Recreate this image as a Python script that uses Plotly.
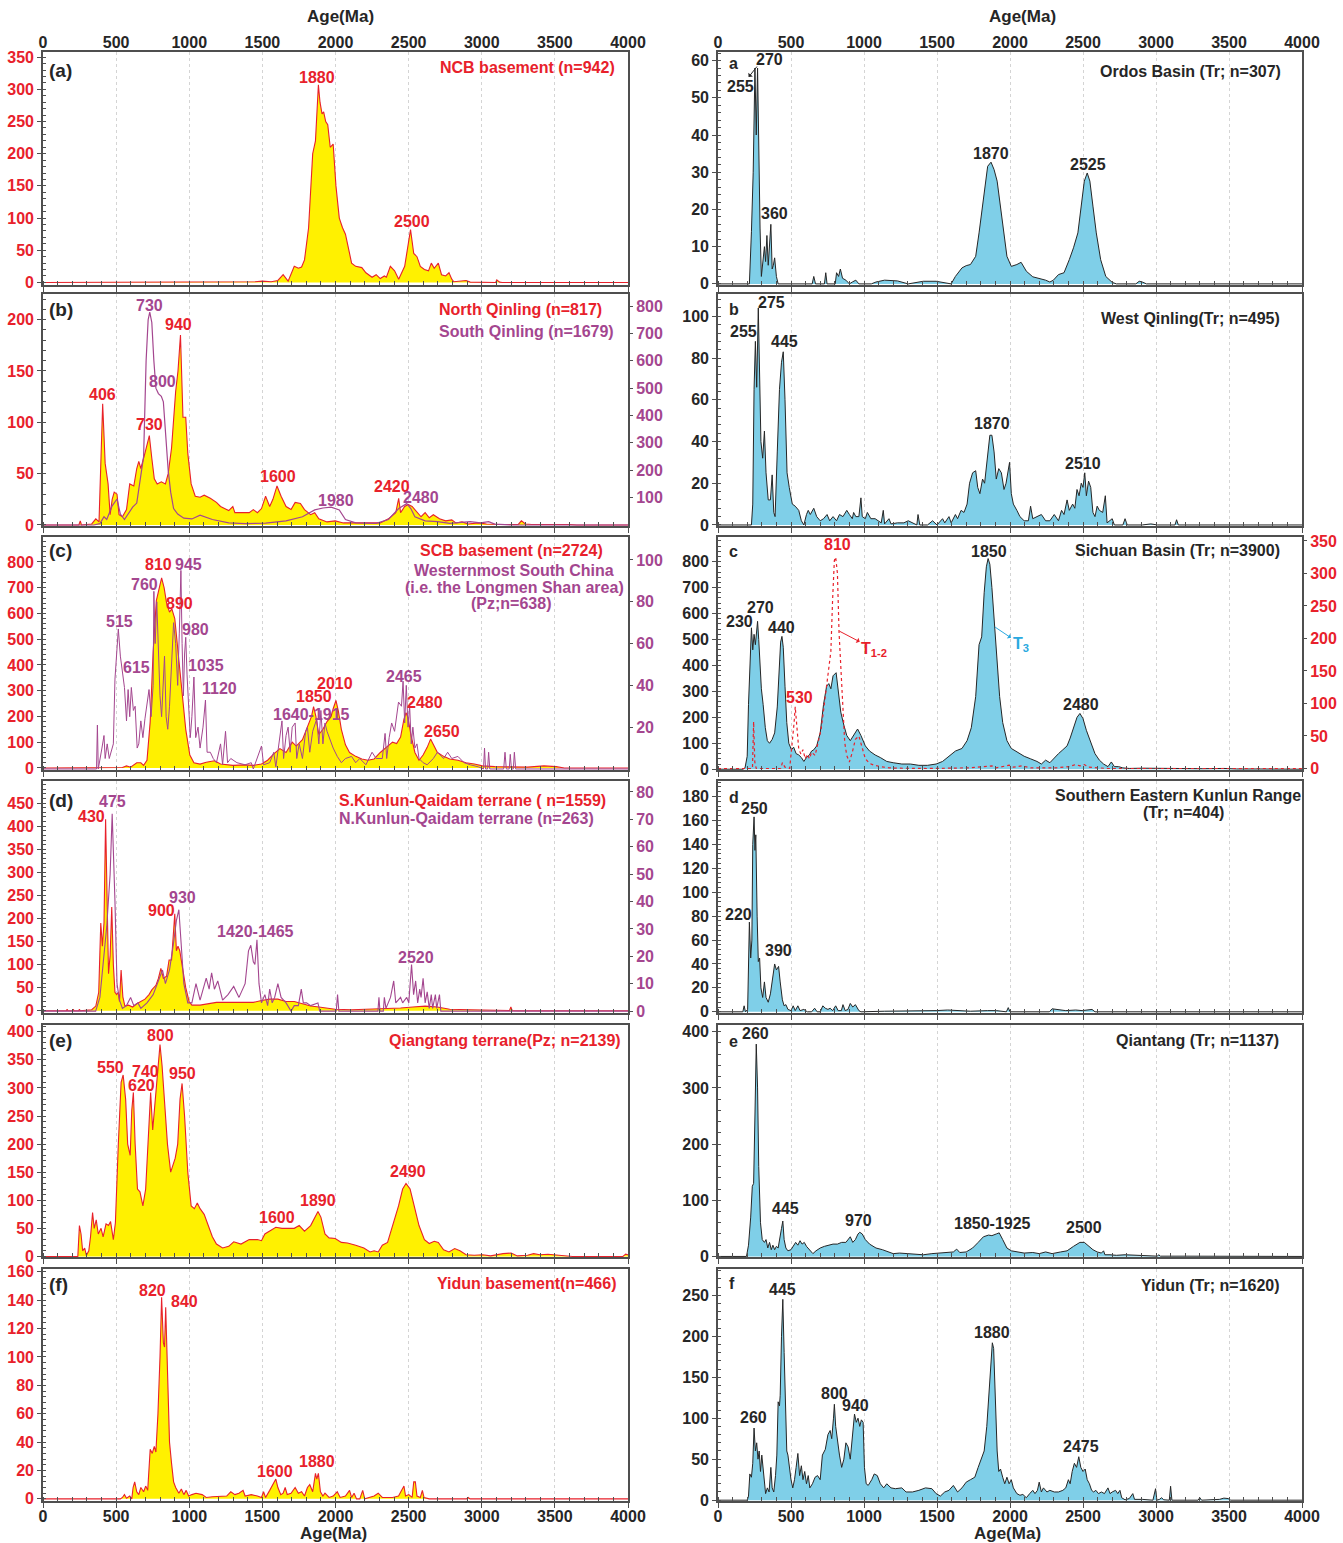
import plotly.graph_objects as go

# ---------------------------------------------------------------- data
# each series: list of (age in Ma, value)
ncb_basement = [(0,0),(1400,0),(1450,1),(1500,2),(1560,1),(1606,3),(1642,12),(1676,2),(1718,25),(1746,22),(1768,24),(1788,35),(1816,85),(1844,200),(1863,220),(1883,307),(1894,280),(1908,262),(1919,265),(1933,250),(1947,245),(1964,210),(1984,215),(2003,150),(2026,100),(2048,85),(2068,75),(2087,55),(2110,30),(2138,25),(2180,23),(2208,15),(2250,8),(2278,12),(2306,6),(2334,10),(2348,8),(2375,25),(2404,18),(2432,5),(2473,25),(2513,82),(2535,45),(2557,40),(2580,25),(2608,20),(2636,18),(2655,30),(2675,22),(2703,30),(2725,12),(2753,10),(2776,15),(2795,5),(2809,1),(2893,3),(2921,0.5),(3095,0),(3103,4),(3122,0.5),(3140,0),(4000,0)]

north_qinling = [(0,0),(245,0),(255,4),(263,0),(333,1),(361,6),(383,3),(408,118),(425,60),(445,40),(459,10),(473,25),(487,32),(506,30),(520,10),(543,8),(571,15),(593,40),(621,38),(641,55),(655,62),(669,55),(697,70),(727,87),(744,65),(761,45),(781,40),(809,42),(837,40),(856,50),(879,75),(907,130),(923,150),(940,185),(957,105),(976,105),(990,70),(1013,40),(1041,28),(1074,27),(1102,29),(1144,26),(1186,22),(1214,18),(1270,14),(1298,18),(1312,12),(1354,12),(1410,12),(1438,15),(1466,12),(1494,16),(1522,28),(1550,18),(1572,25),(1600,38),(1628,28),(1662,18),(1696,15),(1724,22),(1760,21),(1788,15),(1830,10),(1858,12),(1886,6),(1942,3),(1998,4),(2054,2),(2166,2),(2306,2),(2362,6),(2412,12),(2432,26),(2445,12),(2473,18),(2496,20),(2524,18),(2557,12),(2585,8),(2613,12),(2641,7),(2669,10),(2711,6),(2753,4),(2795,5),(2823,2),(2865,3),(2907,1),(2977,2),(3033,1),(3117,0.5),(3250,0.5),(3271,4),(3299,1),(3341,0.5),(3600,0.5),(3650,0),(4000,0)]

south_qinling = [(0,0),(347,0),(389,5),(417,30),(436,20),(453,40),(473,70),(506,95),(529,40),(557,20),(585,45),(613,65),(641,80),(663,160),(688,250),(705,600),(719,750),(730,778),(744,740),(758,600),(772,500),(789,480),(809,470),(823,450),(837,350),(856,200),(873,120),(893,60),(921,40),(963,25),(1018,22),(1074,36),(1158,20),(1270,8),(1382,5),(1522,7),(1662,15),(1774,30),(1858,55),(1914,62),(1970,65),(2026,55),(2068,20),(2138,8),(2278,6),(2362,20),(2432,60),(2487,78),(2515,60),(2543,30),(2613,15),(2697,12),(2781,6),(2921,12),(2991,8),(3047,12),(3089,3),(3201,0),(4000,0)]

scb_basement = [(0,0),(300,0),(543,2),(571,8),(599,3),(641,20),(669,20),(688,10),(711,30),(733,180),(753,450),(775,650),(795,700),(811,738),(828,700),(845,640),(865,605),(881,618),(901,580),(915,500),(935,400),(954,280),(976,150),(1004,50),(1032,20),(1074,15),(1116,22),(1172,28),(1214,15),(1298,10),(1382,12),(1438,10),(1494,15),(1536,30),(1578,55),(1620,75),(1662,60),(1704,100),(1732,85),(1774,110),(1816,170),(1836,200),(1850,238),(1866,200),(1886,130),(1914,150),(1942,180),(1970,200),(1984,230),(2003,262),(2020,220),(2040,150),(2068,90),(2096,60),(2138,45),(2180,35),(2222,30),(2264,35),(2306,60),(2348,80),(2390,100),(2418,95),(2445,120),(2468,190),(2482,215),(2496,195),(2515,130),(2543,60),(2571,30),(2599,50),(2627,80),(2650,112),(2669,90),(2697,60),(2739,45),(2781,35),(2837,30),(2893,20),(2949,15),(3005,8),(3089,5),(3173,5),(3313,3),(3425,8),(3509,5),(3565,0),(4000,0)]

westernmost_sc = [(0,0),(366,0),(372,21),(378,0),(403,10),(417,16),(425,5),(439,12),(453,5),(464,8),(481,12),(492,43),(515,67),(529,54),(543,45),(557,39),(571,23),(582,38),(593,25),(604,39),(618,28),(630,30),(644,10),(655,12),(669,23),(683,15),(697,24),(711,30),(725,38),(739,25),(753,40),(758,85),(767,60),(778,80),(789,60),(800,35),(811,25),(823,45),(831,54),(842,25),(853,19),(865,30),(879,50),(893,70),(907,60),(921,40),(932,65),(943,95),(951,60),(960,35),(968,55),(976,63),(985,45),(996,30),(1007,15),(1018,25),(1032,44),(1044,15),(1060,20),(1074,10),(1094,20),(1111,33),(1122,8),(1144,8),(1164,5),(1186,3),(1214,12),(1228,2),(1248,18),(1262,3),(1284,5),(1326,3),(1382,2),(1424,3),(1438,0),(1494,11),(1508,2),(1550,3),(1578,8),(1592,1),(1620,15),(1634,23),(1645,5),(1662,16),(1676,20),(1690,8),(1704,20),(1724,22),(1735,5),(1752,12),(1774,5),(1796,18),(1808,20),(1824,8),(1844,18),(1872,24),(1886,12),(1900,28),(1914,12),(1928,22),(1942,18),(1964,14),(1984,10),(2012,6),(2040,3),(2068,5),(2110,6),(2138,3),(2166,5),(2208,2),(2250,8),(2278,5),(2320,5),(2339,17),(2350,5),(2367,15),(2384,22),(2404,18),(2418,25),(2431,32),(2451,30),(2462,42),(2473,22),(2484,40),(2496,20),(2507,30),(2518,12),(2529,20),(2543,10),(2557,12),(2571,5),(2599,3),(2627,2),(2669,5),(2697,8),(2739,5),(2767,8),(2795,5),(2837,6),(2879,3),(2921,2),(2977,1),(3012,0),(3019,10),(3026,0),(3040,0),(3047,8),(3055,0),(3150,0),(3159,8),(3168,0),(3188,0),(3195,7),(3203,0),(3216,0),(3223,8),(3232,0),(4000,0)]

s_kunlun_qaidam = [(0,0),(160,0),(165,3),(170,0),(202,0),(207,3),(212,0),(244,0),(249,3),(254,0),(333,2),(361,10),(381,40),(395,190),(406,140),(417,190),(428,415),(439,200),(448,80),(459,120),(470,225),(481,100),(492,40),(504,35),(515,40),(523,20),(534,88),(546,30),(560,10),(585,12),(613,8),(641,15),(669,20),(697,25),(725,35),(744,45),(772,55),(789,70),(806,92),(823,70),(845,75),(862,110),(879,110),(890,170),(901,210),(912,130),(923,140),(935,130),(954,90),(976,50),(999,20),(1018,12),(1074,12),(1130,15),(1186,18),(1270,18),(1354,18),(1438,18),(1494,22),(1550,25),(1606,25),(1662,20),(1718,20),(1774,15),(1830,10),(1886,8),(1942,5),(1998,3),(2110,2),(2222,3),(2334,5),(2445,6),(2529,8),(2613,10),(2697,8),(2781,3),(2921,2),(3061,0.5),(3190,0.5),(3199,8),(3208,0.5),(3250,0),(4000,0)]

n_kunlun_qaidam = [(0,0),(360,0),(389,5),(417,22),(436,31),(459,50),(473,72),(492,40),(506,10),(523,4),(543,1),(571,2),(599,5),(621,2),(649,3),(669,1),(711,3),(753,6),(795,12),(817,15),(837,10),(865,15),(893,25),(912,33),(929,37),(943,25),(963,10),(990,3),(1018,3),(1046,10),(1074,4),(1116,12),(1136,8),(1153,14),(1172,8),(1195,11),(1228,4),(1265,6),(1304,9),(1340,5),(1382,10),(1405,22),(1421,24),(1438,18),(1449,17),(1463,26),(1477,10),(1494,3),(1517,6),(1536,2),(1550,8),(1567,3),(1584,5),(1606,10),(1628,5),(1662,3),(1696,0),(1718,2),(1746,2),(1766,8),(1780,3),(1802,3),(1830,2),(1880,3),(1892,0),(2005,0),(2014,6),(2023,0),(2290,0),(2297,5),(2304,0),(2327,0),(2334,5),(2345,1),(2376,5),(2398,11),(2412,3),(2445,5),(2459,3),(2487,5),(2501,3),(2520,17),(2534,6),(2548,11),(2562,3),(2576,8),(2585,5),(2599,12),(2613,3),(2627,7),(2641,1),(2655,6),(2664,1),(2683,6),(2692,1),(2711,6),(2720,0),(4000,0)]

qiangtang_pz = [(0,0),(238,0),(249,55),(260,40),(271,10),(285,15),(297,2),(313,10),(325,35),(339,78),(350,50),(364,65),(378,40),(397,50),(411,35),(431,58),(448,55),(462,62),(481,30),(495,60),(515,200),(534,310),(548,323),(565,280),(579,200),(596,180),(607,260),(618,292),(630,200),(646,120),(663,115),(683,90),(702,120),(719,200),(736,292),(750,225),(767,280),(786,330),(800,377),(814,340),(831,280),(851,200),(873,150),(890,165),(904,175),(921,200),(937,280),(951,308),(968,250),(990,150),(1013,90),(1035,85),(1055,95),(1074,85),(1102,75),(1130,55),(1158,35),(1186,22),(1228,15),(1270,18),(1304,26),(1354,22),(1410,30),(1466,30),(1494,28),(1517,40),(1550,45),(1592,52),(1634,50),(1690,50),(1718,50),(1752,55),(1788,45),(1830,55),(1858,70),(1880,80),(1900,70),(1928,40),(1956,33),(1998,32),(2040,25),(2082,24),(2138,20),(2194,15),(2236,8),(2264,10),(2292,8),(2320,20),(2356,25),(2390,55),(2431,90),(2459,120),(2482,130),(2510,120),(2538,90),(2571,55),(2608,30),(2641,23),(2675,27),(2703,25),(2739,12),(2776,8),(2815,14),(2851,10),(2893,3),(2949,2),(3005,3),(3061,1),(3145,5),(3201,6),(3243,1),(3313,2),(3355,5),(3397,3),(3453,4),(3509,3),(3593,1),(3621,0),(3965,0),(3984,4),(4000,3)]

yidun_basement = [(0,0),(529,0),(543,1),(557,3),(571,0.5),(593,2),(607,0),(616,8),(627,12),(641,5),(655,3),(669,8),(688,5),(702,9),(716,6),(733,35),(747,32),(761,37),(772,33),(786,60),(800,100),(811,142),(823,110),(831,107),(839,135),(851,95),(865,40),(879,25),(893,12),(907,8),(929,4),(946,7),(963,3),(979,6),(996,2),(1018,3),(1046,4),(1088,3),(1116,1),(1158,1.5),(1214,2),(1256,2),(1284,5),(1312,3),(1340,4),(1368,6),(1382,2),(1424,3),(1466,2),(1494,1),(1508,5),(1522,1),(1550,6),(1572,10),(1592,14),(1606,8),(1626,3),(1642,4),(1656,8),(1670,3),(1696,4),(1724,8),(1746,4),(1768,5),(1788,2),(1808,8),(1824,10),(1844,5),(1863,18),(1872,14),(1883,18),(1897,5),(1914,2),(1928,4),(1956,1),(1984,2),(2012,5),(2032,1),(2068,2),(2096,6),(2110,1),(2127,4),(2144,0),(2166,0),(2186,6),(2200,0),(2236,1),(2264,2),(2292,4),(2320,1),(2390,1),(2431,2),(2468,9),(2479,2),(2501,3),(2524,1),(2535,12),(2546,12),(2557,2),(2580,1),(2594,6),(2605,1),(2641,0),(2895,0),(2907,1),(2920,0),(4000,0)]

ordos_tr = [(0,0),(215,0),(229,14),(241,30),(253,58),(262,40),(271,58),(279,35),(288,15),(297,2),(309,8),(318,10),(326,6),(335,13),(344,5),(353,12),(362,16),(371,4),(379,5),(388,7),(400,2),(412,0),(645,0),(656,2),(668,0),(729,0),(738,3),(747,0),(803,0),(812,3),(826,2),(838,4),(853,1.5),(876,1),(900,0),(920,0.5),(944,1),(965,0),(1050,0),(1082,0.5),(1141,1),(1229,0.8),(1303,0),(1406,0.7),(1494,0.7),(1597,0),(1626,2),(1671,4.3),(1700,4.9),(1729,5.2),(1765,7.4),(1788,13.7),(1818,22.6),(1847,31.6),(1870,32.7),(1891,30.7),(1912,27.6),(1935,20.9),(1959,13.7),(1979,7.4),(2009,4.7),(2047,5.2),(2076,5.8),(2112,3.4),(2156,1.9),(2200,1.5),(2244,1),(2273,0.5),(2297,1),(2332,2.5),(2370,3),(2406,6.5),(2435,9.7),(2465,13.7),(2488,20.9),(2509,27.6),(2529,29.8),(2547,27.6),(2568,20.9),(2591,13.7),(2621,6.5),(2656,2),(2700,0.4),(2729,0),(2862,0),(2885,0.7),(2906,0.5),(2935,0),(4000,0)]

west_qinling_tr = [(0,0),(229,0),(238,10),(247,65),(256,88),(265,66),(276,104),(285,78),(294,40),(306,32),(318,45),(329,25),(344,12),(359,12),(371,24),(382,6),(391,4),(406,35),(421,65),(435,78),(447,83),(459,60),(473,25),(488,18),(509,10),(529,9),(553,7),(571,2),(588,0),(606,5),(618,7),(632,5),(656,8),(676,4),(700,2),(723,3),(747,5),(765,2),(788,4),(812,2),(832,5),(856,4),(882,7),(900,5),(920,3),(929,6),(944,4),(965,4),(979,13),(988,4),(1009,3),(1023,6),(1047,3),(1076,3),(1097,2),(1118,1),(1132,7),(1141,0.5),(1171,3),(1185,0.5),(1229,1),(1273,1),(1303,2),(1332,1),(1362,0),(1370,5),(1382,0),(1435,0),(1470,2),(1500,0),(1538,3),(1553,1),(1582,4),(1597,1),(1626,5),(1641,3),(1665,7),(1685,6),(1706,10),(1723,20),(1744,25),(1765,26),(1779,18),(1794,15),(1812,22),(1826,20),(1841,30),(1862,43),(1876,43),(1891,35),(1906,22),(1923,27),(1941,25),(1959,17),(1973,20),(1997,30),(2009,15),(2023,10),(2047,7),(2068,4),(2097,2),(2126,2),(2141,9),(2156,3),(2185,4),(2215,5),(2244,2),(2273,2),(2303,5),(2332,2),(2353,7),(2370,5),(2391,12),(2406,7),(2429,10),(2444,8),(2459,17),(2473,14),(2488,20),(2500,18),(2512,25),(2523,14),(2538,21),(2553,18),(2568,6),(2582,4),(2597,9),(2612,7),(2635,6),(2653,14),(2665,1),(2685,2),(2700,3),(2715,0),(2773,0),(2788,3),(2803,0),(2906,0),(2965,0.5),(3009,0),(3130,0),(3141,2.5),(3153,0),(4000,0)]

sichuan_t3 = [(0,0),(171,0),(185,5),(200,50),(209,250),(221,450),(229,545),(238,460),(247,520),(256,480),(265,560),(271,570),(279,500),(288,420),(297,310),(309,250),(324,160),(338,110),(353,100),(371,115),(388,140),(406,240),(418,380),(429,490),(438,512),(447,470),(459,320),(471,180),(485,100),(503,75),(518,85),(535,60),(553,55),(571,45),(588,30),(606,45),(626,55),(641,70),(656,75),(676,90),(700,140),(723,250),(744,320),(759,330),(773,310),(788,360),(809,372),(823,310),(841,220),(862,170),(882,130),(906,110),(929,130),(956,155),(979,130),(1009,90),(1038,70),(1076,55),(1112,45),(1156,30),(1200,25),(1259,20),(1318,20),(1376,15),(1435,15),(1494,20),(1538,30),(1582,50),(1626,70),(1671,80),(1706,110),(1735,160),(1765,280),(1788,480),(1806,510),(1823,680),(1838,780),(1850,812),(1862,790),(1876,700),(1894,560),(1912,400),(1929,280),(1950,180),(1979,110),(2009,80),(2053,65),(2097,50),(2141,40),(2185,30),(2215,20),(2244,35),(2273,25),(2303,45),(2332,60),(2362,75),(2391,90),(2412,120),(2435,160),(2459,200),(2479,215),(2500,195),(2523,150),(2553,100),(2582,60),(2612,35),(2641,20),(2671,10),(2694,28),(2715,10),(2744,10),(2773,5),(2817,3),(2906,4),(2994,3),(3082,2),(3200,2),(3317,2),(3465,3),(3553,1),(3700,1),(3906,2),(3930,0),(4000,0)]

sichuan_t12 = [(0,0),(236,0),(244,72),(252,10),(262,0),(430,0),(441,9),(459,2),(491,0),(506,30),(521,70),(529,95),(541,60),(553,30),(568,22),(582,29),(597,15),(612,22),(626,15),(641,25),(665,20),(685,40),(706,60),(729,100),(747,130),(759,150),(773,180),(785,260),(797,320),(806,325),(818,300),(829,210),(841,150),(853,100),(868,40),(882,20),(900,10),(920,25),(941,45),(965,50),(985,35),(1009,15),(1038,8),(1068,5),(1112,3),(1171,1),(1229,0.5),(1435,0),(1729,1),(1847,3),(1876,4),(1906,1),(1994,5),(2023,2),(2082,4),(2141,1),(2318,1),(2406,3),(2450,6),(2479,4),(2509,6),(2538,2),(2612,1),(2671,0),(4000,0)]

se_kunlun_tr = [(0,0),(170,0),(179,5),(188,0),(203,2),(215,75),(224,45),(232,60),(238,140),(247,163),(253,135),(259,148),(268,80),(276,42),(285,45),(294,20),(306,12),(318,25),(329,12),(344,8),(359,15),(374,30),(388,40),(400,35),(415,38),(426,25),(441,10),(453,5),(465,6),(479,2),(500,1),(515,5),(529,1),(547,5),(562,1),(588,2),(612,0),(641,0),(662,3),(679,0),(700,0),(718,5),(735,3),(753,2),(768,3),(785,1),(806,5),(823,1),(845,1),(856,6),(871,1),(890,2),(906,7),(923,4),(941,6),(965,1),(979,0),(1141,0.5),(1347,0.5),(1494,1),(1573,1.5),(1635,1),(1729,0.5),(1847,1),(1906,1),(1975,0),(1988,3.5),(2000,0),(2270,0),(2288,2.5),(2332,2),(2382,1),(2450,1.5),(2494,1),(2562,2),(2582,0),(4000,0)]

qiantang_tr = [(0,0),(195,0),(209,20),(224,70),(235,125),(244,130),(253,250),(262,378),(271,300),(279,160),(291,60),(303,30),(318,25),(329,30),(341,15),(353,25),(365,12),(376,20),(388,12),(400,18),(412,15),(424,30),(435,50),(444,63),(453,30),(465,15),(479,10),(500,12),(518,20),(532,25),(547,20),(562,28),(576,22),(591,25),(606,18),(626,12),(650,5),(671,10),(700,15),(729,18),(759,20),(788,22),(818,22),(847,25),(876,25),(891,30),(906,35),(923,25),(941,30),(959,40),(971,43),(988,40),(1009,30),(1038,22),(1082,15),(1126,12),(1171,8),(1200,5),(1244,6),(1288,5),(1347,4),(1406,3),(1465,5),(1523,6),(1582,7),(1612,8),(1635,13),(1656,7),(1700,8),(1744,15),(1782,25),(1818,35),(1853,38),(1876,37),(1906,40),(1926,42),(1950,30),(1979,15),(2009,10),(2053,8),(2097,6),(2156,7),(2200,5),(2244,8),(2288,5),(2347,8),(2391,10),(2435,18),(2479,25),(2509,25),(2538,18),(2568,12),(2597,8),(2626,6),(2641,10),(2650,3),(2685,3),(2729,2),(2788,3),(2847,2),(2906,1),(3010,0.5),(3018,3),(3030,0.5),(3200,0.5),(3347,0.3),(3500,0),(4000,0)]

yidun_tr = [(0,0),(200,0),(209,5),(218,32),(229,28),(238,45),(247,88),(256,60),(265,70),(274,50),(282,60),(291,35),(300,55),(309,40),(318,20),(326,8),(338,15),(350,10),(362,40),(371,15),(382,10),(394,30),(403,55),(412,120),(421,115),(426,128),(435,200),(444,245),(453,180),(462,100),(471,60),(479,55),(488,40),(500,25),(512,15),(524,25),(535,40),(547,57),(559,30),(571,42),(582,25),(594,35),(606,20),(618,30),(629,15),(647,20),(665,28),(682,30),(700,25),(715,55),(735,62),(753,80),(768,85),(779,75),(791,100),(797,117),(806,90),(818,70),(832,55),(847,40),(862,50),(876,70),(891,65),(906,50),(921,80),(935,105),(947,95),(959,100),(971,90),(982,98),(994,95),(1003,40),(1015,20),(1029,18),(1053,25),(1070,32),(1091,30),(1112,20),(1135,15),(1156,20),(1185,15),(1215,14),(1259,15),(1288,10),(1332,10),(1376,12),(1421,15),(1465,14),(1494,8),(1523,5),(1553,10),(1582,12),(1612,18),(1641,10),(1671,15),(1700,22),(1729,25),(1759,28),(1782,40),(1803,50),(1823,60),(1841,90),(1856,130),(1870,175),(1879,192),(1888,185),(1900,120),(1912,60),(1923,35),(1935,38),(1950,28),(1964,20),(1979,28),(1994,20),(2009,25),(2023,15),(2047,8),(2068,6),(2088,7),(2112,3),(2135,8),(2156,12),(2171,8),(2188,12),(2200,22),(2215,10),(2229,15),(2253,10),(2273,12),(2303,10),(2332,10),(2362,12),(2382,15),(2400,25),(2412,20),(2426,35),(2441,45),(2456,40),(2471,53),(2485,40),(2500,35),(2515,38),(2529,25),(2544,20),(2559,12),(2573,10),(2588,12),(2606,8),(2626,10),(2647,8),(2671,15),(2685,8),(2700,10),(2723,12),(2738,8),(2753,12),(2765,3),(2788,0.5),(2817,2),(2841,8),(2853,1),(2906,1),(2979,0),(2997,14),(3006,0),(3024,1),(3038,3),(3053,0.5),(3091,0),(3100,17),(3109,0),(3288,0),(3300,3),(3312,0),(3435,1),(3465,2.5),(3494,2),(3512,0),(4000,0)]

# peak labels: (text, age, value on the panel's left axis)
peaks_a_l = [("1880", 1875, 318), ("2500", 2525, 95)]
peaks_b_l_red = [("406", 408, 127), ("730", 727, 98), ("940", 929, 195), ("1600", 1606, 47), ("2420", 2384, 37)]
peaks_b_l_pur = [("730", 727, 214), ("800", 814, 140), ("1980", 2003, 23.5), ("2480", 2585, 26.5)]
peaks_c_l_red = [("810", 793, 789), ("890", 935, 639), ("1850", 1852, 279), ("2010", 1998, 328), ("2480", 2612, 255), ("2650", 2725, 143)]
peaks_c_l_pur = [("515", 520, 567), ("615", 641, 389), ("760", 697, 713), ("945", 998, 789), ("980", 1046, 538), ("1035", 1116, 396), ("1120", 1206, 307), ("1640-1915", 1835, 208), ("2465", 2465, 357)]
peaks_d_l_red = [("430", 333, 422), ("900", 809, 218)]
peaks_d_l_pur = [("475", 473, 454), ("930", 954, 245), ("1420-1465", 1452, 171), ("2520", 2552, 115)]
peaks_e_l = [("550", 464, 336), ("620", 674, 304), ("740", 702, 329), ("800", 800, 394), ("950", 957, 325), ("1600", 1600, 69), ("1890", 1880, 100), ("2490", 2496, 151)]
peaks_f_l = [("820", 747, 147), ("840", 968, 139), ("1600", 1586, 19), ("1880", 1872, 26)]
peaks_a_r = [("270", 356, 60.3), ("360", 385, 18.8), ("1870", 1870, 35), ("2525", 2532, 32)]
peaks_b_r = [("255", 176, 92.5), ("275", 368, 106.4), ("445", 453, 87.8), ("1870", 1876, 48.6), ("2510", 2503, 29.6)]
peaks_c_r = [("230", 147, 571), ("270", 288, 623), ("440", 435, 545), ("1850", 1856, 838), ("2480", 2488, 248)]
peaks_c_r_red = [("530", 559, 275), ("810", 818, 865)]
peaks_d_r = [("250", 253, 170), ("220", 141, 81), ("390", 412, 51)]
peaks_e_r = [("260", 259, 396), ("445", 459, 85), ("970", 959, 64), ("1850-1925", 1882, 59), ("2500", 2509, 51)]
peaks_f_r = [("260", 244, 101), ("445", 441, 257), ("800", 797, 130), ("940", 941, 115), ("1880", 1876, 204), ("2475", 2485, 66)]
# labels joined to the curve by an arrow: (text, label age, label value, curve age, curve value)
arrow_a_r = ("255", 156, 52.9, 267, 58.4)
arrow_c_t12 = ("T<sub>1-2</sub>", 1070, 462, 832, 532)
arrow_c_t3 = ("T<sub>3</sub>", 2072, 482, 1897, 548)

age_ticks = [0, 500, 1000, 1500, 2000, 2500, 3000, 3500, 4000]

# ---------------------------------------------------------------- style
W, H = 1343, 1543
RED = "#e8212b"
PURPLE = "#a4468f"
YELLOW = "#fff100"
BLUE = "#7fcfe8"
DARK = "#262626"
FRAME = "#4f4f4f"
TBLUE = "#2aa9e0"
FONT = "Liberation Sans, Arial, Helvetica, sans-serif"
TS = 16  # tick / label font size

ROWS = [(52, 285), (294, 526), (537, 770), (781, 1013), (1025, 1257), (1269, 1501)]
COLS = [(43, 628), (718, 1302)]


def sfx(k):
    return "" if k == 1 else str(k)


def unzip(pairs):
    return [p[0] for p in pairs], [p[1] for p in pairs]


fig = go.Figure()


def area(pairs, k, lc, fc, w=1.1):
    x, y = unzip(pairs)
    fig.add_trace(go.Scatter(x=x, y=y, mode="lines", line=dict(color=lc, width=w),
                             fill="tozeroy", fillcolor=fc, xaxis="x" + sfx(k), yaxis="y" + sfx(k),
                             showlegend=False, hoverinfo="skip"))


def line(pairs, xk, yk, lc, dash="solid", w=1.2):
    x, y = unzip(pairs)
    fig.add_trace(go.Scatter(x=x, y=y, mode="lines", line=dict(color=lc, width=w, dash=dash),
                             xaxis="x" + sfx(xk), yaxis="y" + sfx(yk),
                             showlegend=False, hoverinfo="skip"))


# left column
area(ncb_basement, 1, RED, YELLOW)
area(north_qinling, 2, RED, YELLOW)
line(south_qinling, 2, 13, PURPLE)
area(scb_basement, 3, RED, YELLOW)
line(westernmost_sc, 3, 14, PURPLE, w=1.0)
area(s_kunlun_qaidam, 4, RED, YELLOW)
line(n_kunlun_qaidam, 4, 15, PURPLE, w=1.1)
area(qiangtang_pz, 5, RED, YELLOW)
area(yidun_basement, 6, RED, YELLOW)
# right column
area(ordos_tr, 7, DARK, BLUE, 1.0)
area(west_qinling_tr, 8, DARK, BLUE, 1.0)
area(sichuan_t3, 9, DARK, BLUE, 1.0)
line(sichuan_t12, 9, 16, RED, dash="dot", w=1.2)
area(se_kunlun_tr, 10, DARK, BLUE, 1.0)
area(qiantang_tr, 11, DARK, BLUE, 1.0)
area(yidun_tr, 12, DARK, BLUE, 1.0)
# carriers for top tick-label axes
fig.add_trace(go.Scatter(x=[None], y=[None], xaxis="x13", yaxis="y", showlegend=False, hoverinfo="skip"))
fig.add_trace(go.Scatter(x=[None], y=[None], xaxis="x14", yaxis="y7", showlegend=False, hoverinfo="skip"))

tickfont_x = dict(family=FONT, size=TS, color=DARK, weight="bold")

# panel axis settings: (k, col, row, y-range, dtick, label colour)
panels = [
    (1, 0, 0, [-4, 358], 50, RED),
    (2, 0, 1, [-1, 225], 50, RED),
    (3, 0, 2, [-8, 897], 100, RED),
    (4, 0, 3, [-5, 498], 50, RED),
    (5, 0, 4, [-1, 412], 50, RED),
    (6, 0, 5, [-1.5, 162], 20, RED),
    (7, 1, 0, [-0.3, 62.3], 10, DARK),
    (8, 1, 1, [-0.5, 110.7], 20, DARK),
    (9, 1, 2, [-3, 895], 100, DARK),
    (10, 1, 3, [-1, 193], 20, DARK),
    (11, 1, 4, [-1, 412], 100, DARK),
    (12, 1, 5, [-1, 282], 50, DARK),
]

layout = {}
for k, c, r, yr, dt, col in panels:
    x0, x1 = COLS[c]
    t, b = ROWS[r]
    xa = dict(domain=[x0 / W, x1 / W], range=[0, 4000], anchor="y" + sfx(k), automargin=False,
              tickmode="array", tickvals=age_ticks,
              ticks="outside", ticklen=5, tickwidth=1.2, tickcolor=FRAME,
              minor=dict(tickmode="linear", tick0=0, dtick=100, ticks="inside", ticklen=4,
                         tickwidth=1, tickcolor=FRAME, showgrid=False),
              showgrid=True, gridcolor="#d4d4d4", griddash="dot", gridwidth=1,
              showline=True, linecolor=FRAME, linewidth=1.6, mirror=True, zeroline=False,
              showticklabels=(r == 5), tickfont=tickfont_x)
    if r == 5:
        xa["ticklabelstandoff"] = -5
    layout["xaxis" + sfx(k)] = xa
    layout["yaxis" + sfx(k)] = dict(
        domain=[1 - b / H, 1 - t / H], range=yr, anchor="x" + sfx(k), automargin=False,
        tickmode="linear", tick0=0, dtick=dt,
        ticks="outside", ticklen=4, tickwidth=1.2, tickcolor=FRAME,
        minor=dict(tickmode="linear", tick0=0, dtick=dt / 5, ticks="inside", ticklen=3,
                   tickwidth=1, tickcolor=FRAME, showgrid=False),
        showgrid=False, showline=True, linecolor=FRAME, linewidth=1.6, mirror=True, zeroline=False,
        tickfont=dict(family=FONT, size=TS, color=col, weight="bold"))

# top tick labels for first row
for k, base, anc in [(13, "x", "y"), (14, "x7", "y7")]:
    layout["xaxis%d" % k] = dict(overlaying=base, side="top", anchor=anc, range=[0, 4000],
                                 automargin=False,
                                 tickmode="array", tickvals=age_ticks, ticks="", showgrid=False,
                                 showline=False, zeroline=False, tickfont=tickfont_x)

# secondary (right side) y axes
sec = [
    (13, "y2", "x2", [-3.7, 844], [100, 200, 300, 400, 500, 600, 700, 800], PURPLE),
    (14, "y3", "x3", [-0.5, 111], [20, 40, 60, 80, 100], PURPLE),
    (15, "y4", "x4", [-0.7, 84], [0, 10, 20, 30, 40, 50, 60, 70, 80], PURPLE),
    (16, "y9", "x9", [-2.3, 356], [0, 50, 100, 150, 200, 250, 300, 350], RED),
]
for k, base, anc, yr, tv, col in sec:
    layout["yaxis%d" % k] = dict(overlaying=base, side="right", anchor=anc, range=yr,
                                 automargin=False,
                                 tickmode="array", tickvals=tv, ticks="outside", ticklen=4,
                                 tickwidth=1.2, tickcolor=FRAME, showgrid=False, zeroline=False,
                                 showline=False,
                                 tickfont=dict(family=FONT, size=TS, color=col, weight="bold"))

ann = []


def peak(lst, k, col, size=TS):
    for t, xv, yv in lst:
        ann.append(dict(x=xv, y=yv, xref="x" + sfx(k), yref="y" + sfx(k), text=t, showarrow=False,
                        xanchor="center", yanchor="middle",
                        font=dict(family=FONT, size=size, color=col, weight="bold")))


peak(peaks_a_l, 1, RED)
peak(peaks_b_l_red, 2, RED)
peak(peaks_b_l_pur, 2, PURPLE)
peak(peaks_c_l_red, 3, RED)
peak(peaks_c_l_pur, 3, PURPLE)
peak(peaks_d_l_red, 4, RED)
peak(peaks_d_l_pur, 4, PURPLE)
peak(peaks_e_l, 5, RED)
peak(peaks_f_l, 6, RED)
peak(peaks_a_r, 7, DARK)
peak(peaks_b_r, 8, DARK)
peak(peaks_c_r, 9, DARK)
peak(peaks_c_r_red, 9, RED)
peak(peaks_d_r, 10, DARK)
peak(peaks_e_r, 11, DARK)
peak(peaks_f_r, 12, DARK)


def arrow_label(spec, k, col):
    t, lx, ly, cx, cy = spec
    ann.append(dict(x=cx, y=cy, ax=lx, ay=ly, xref="x" + sfx(k), yref="y" + sfx(k),
                    axref="x" + sfx(k), ayref="y" + sfx(k), text=t, showarrow=True,
                    arrowside="start", arrowhead=2, arrowsize=1, arrowwidth=1, arrowcolor=col,
                    standoff=0, startstandoff=0,
                    font=dict(family=FONT, size=TS, color=col, weight="bold")))


arrow_label(arrow_a_r, 7, DARK)
arrow_label(arrow_c_t12, 9, RED)
arrow_label(arrow_c_t3, 9, TBLUE)

# axis titles, panel letters and sample names (pixel positions on the page)
LS = 16
texts = [
    ("Age(Ma)", 341, 16, "center", DARK, 17), ("Age(Ma)", 1022, 16, "center", DARK, 17),
    ("Age(Ma)", 333, 1533, "center", DARK, 17), ("Age(Ma)", 1008, 1533, "center", DARK, 17),
    ("(a)", 47, 70, "left", DARK, 19), ("NCB basement (n=942)", 617, 68, "right", RED, LS),
    ("(b)", 47, 310, "left", DARK, 19), ("North Qinling (n=817)", 437, 310, "left", RED, LS),
    ("South Qinling (n=1679)", 437, 332, "left", PURPLE, LS),
    ("(c)", 47, 550, "left", DARK, 19), ("SCB basement (n=2724)", 511, 550, "center", RED, LS),
    ("Westernmost South China", 514, 570, "center", PURPLE, LS),
    ("(i.e. the Longmen Shan area)", 514, 587, "center", PURPLE, LS),
    ("(Pz;n=638)", 511, 603, "center", PURPLE, LS),
    ("(d)", 47, 800, "left", DARK, 19), ("S.Kunlun-Qaidam terrane ( n=1559)", 337, 800, "left", RED, LS),
    ("N.Kunlun-Qaidam terrane (n=263)", 337, 818, "left", PURPLE, LS),
    ("(e)", 47, 1040, "left", DARK, 19), ("Qiangtang terrane(Pz; n=2139)", 623, 1040, "right", RED, LS),
    ("(f)", 47, 1284, "left", DARK, 19), ("Yidun basement(n=466)", 618, 1283, "right", RED, LS),
    ("a", 727, 64, "left", DARK, 16), ("Ordos Basin (Tr; n=307)", 1283, 72, "right", DARK, LS),
    ("b", 727, 310, "left", DARK, 16), ("West Qinling(Tr; n=495)", 1282, 318, "right", DARK, LS),
    ("c", 727, 551, "left", DARK, 16), ("Sichuan Basin (Tr; n=3900)", 1282, 550, "right", DARK, LS),
    ("d", 727, 797, "left", DARK, 16), ("Southern Eastern Kunlun Range", 1178, 795, "center", DARK, LS),
    ("(Tr; n=404)", 1183, 812, "center", DARK, LS),
    ("e", 727, 1041, "left", DARK, 16), ("Qiantang (Tr; n=1137)", 1281, 1040, "right", DARK, LS),
    ("f", 727, 1283, "left", DARK, 16), ("Yidun (Tr; n=1620)", 1282, 1285, "right", DARK, LS),
]
for t, px, py, xa, col, sz in texts:
    ann.append(dict(x=px / W, y=1 - py / H, xref="paper", yref="paper", text=t, showarrow=False,
                    xanchor=xa, yanchor="middle",
                    font=dict(family=FONT, size=sz, color=col, weight="bold")))

fig.update_layout(width=W, height=H, autosize=False, margin=dict(l=0, r=0, t=0, b=0),
                  paper_bgcolor="white", plot_bgcolor="white", showlegend=False,
                  font=dict(family=FONT), annotations=ann, **layout)

fig.write_html("out.html")
